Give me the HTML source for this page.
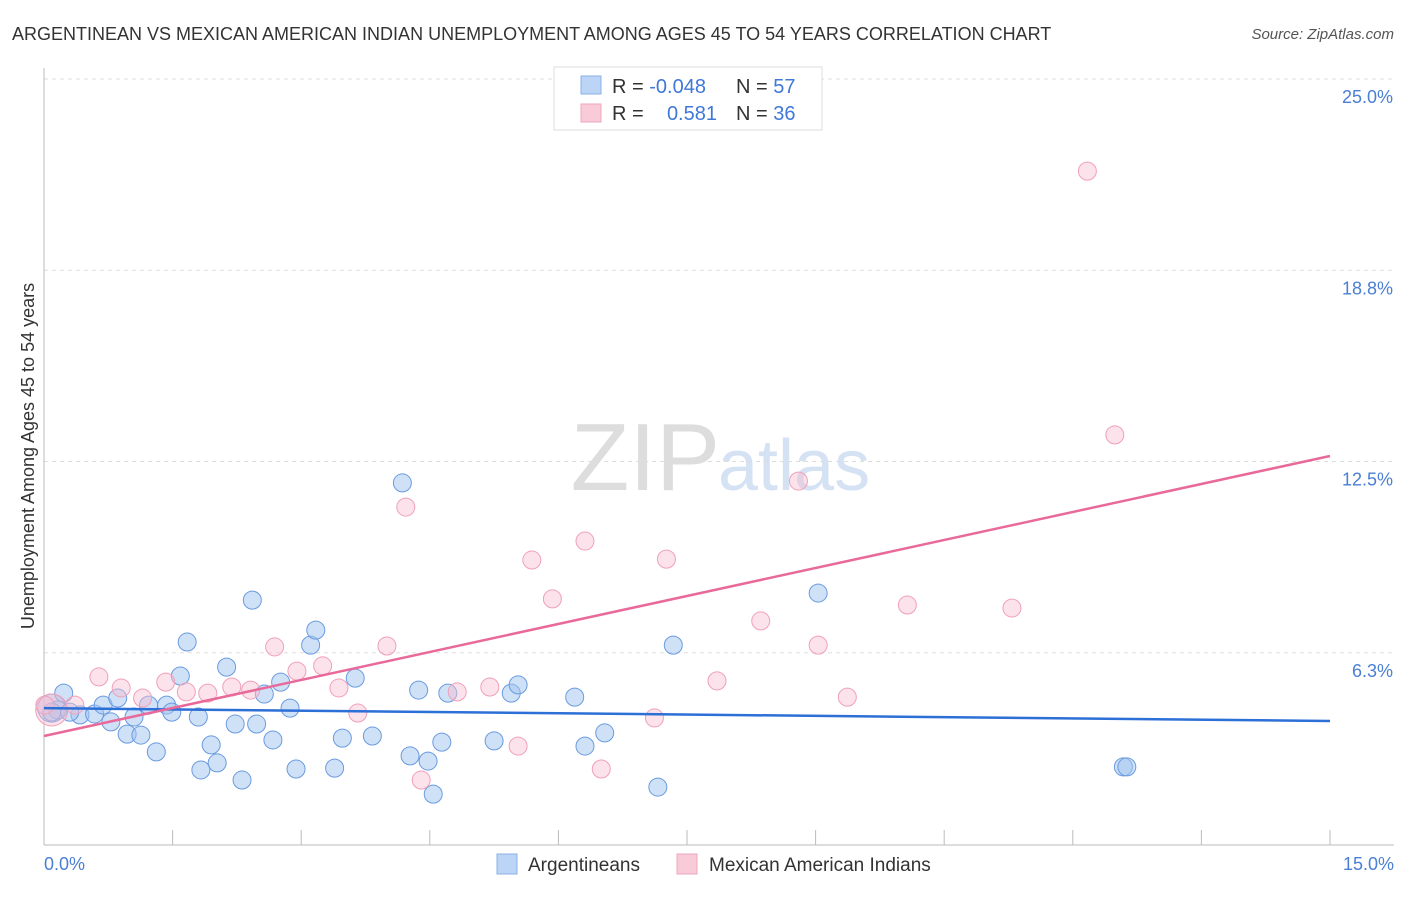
<!DOCTYPE html>
<html><head><meta charset="utf-8"><style>
body{margin:0;background:#fff;font-family:"Liberation Sans",sans-serif;}
svg text{font-family:"Liberation Sans",sans-serif;}
</style></head><body>
<svg id="chart" width="1406" height="892" xmlns="http://www.w3.org/2000/svg">
<text x="12" y="40" font-size="18" fill="#333">ARGENTINEAN VS MEXICAN AMERICAN INDIAN UNEMPLOYMENT AMONG AGES 45 TO 54 YEARS CORRELATION CHART</text>
<text x="1394" y="39" font-size="15" fill="#555" font-style="italic" text-anchor="end">Source: ZipAtlas.com</text>
<text x="720" y="490" font-size="96" fill="#ddd" text-anchor="end" font-family="Liberation Serif">ZIP</text>
<text x="718" y="490" font-size="72" fill="#d4e2f4">atlas</text>
<g id="grid"></g><g id="ticks"></g>
<line x1="44" y1="68" x2="44" y2="845" stroke="#bbb"/>
<line x1="44" y1="845" x2="1394" y2="845" stroke="#bbb"/>
<text transform="translate(34,456) rotate(-90)" font-size="18" fill="#333" text-anchor="middle">Unemployment Among Ages 45 to 54 years</text>
<text x="44" y="870" font-size="18" fill="#4a7fd4">0.0%</text>
<text x="1394" y="870" font-size="18" fill="#4a7fd4" text-anchor="end">15.0%</text>
<g id="points"></g><g id="lines"></g>
<g>
<rect x="554" y="67" width="268" height="63" fill="#fff" stroke="#ddd"/>
<rect x="581" y="76" width="20" height="18" fill="#bcd4f5" stroke="#8ab0e8"/>
<rect x="581" y="104" width="20" height="18" fill="#f9cbd9" stroke="#f0a5bd"/>
<text x="612" y="93" font-size="20" fill="#333">R = <tspan fill="#3f78d8">-0.048</tspan></text>
<text x="736" y="93" font-size="20" fill="#333">N = <tspan fill="#3f78d8">57</tspan></text>
<text x="612" y="120" font-size="20" fill="#333">R = </text><text x="717" y="120" font-size="20" fill="#3f78d8" text-anchor="end">0.581</text>
<text x="736" y="120" font-size="20" fill="#333">N = <tspan fill="#3f78d8">36</tspan></text>
</g>
<g><rect x="497" y="854" width="20" height="20" fill="#bcd4f5" stroke="#8ab0e8"/><text x="528" y="871" font-size="19" fill="#333">Argentineans</text></g>
<g><rect x="677" y="854" width="20" height="20" fill="#f9cbd9" stroke="#f0a5bd"/><text x="709" y="871" font-size="19" fill="#333">Mexican American Indians</text></g>
</svg>
<script>
const yTicks=[6.25,12.5,18.75,25];
const yTickLabels=["6.3%","12.5%","18.8%","25.0%"];
const blueX=[0.09,0.23,0.16,0.42,0.59,0.69,0.78,0.86,0.97,1.05,1.13,1.22,1.31,1.43,1.49,1.59,1.67,1.80,1.83,1.95,2.02,2.13,2.23,2.31,2.43,2.48,2.57,2.67,2.76,2.87,2.94,3.11,3.17,3.39,3.48,3.63,3.83,4.18,4.27,4.37,4.48,4.54,4.64,4.71,5.25,5.45,5.53,6.19,6.31,6.54,7.16,7.34,9.03,12.59,12.63,0.09,0.30];
const blueY=[4.44,4.93,4.38,4.22,4.25,4.54,3.99,4.77,3.59,4.15,3.56,4.54,3.01,4.54,4.31,5.49,6.60,4.15,2.42,3.24,2.65,5.78,3.92,2.09,7.97,3.92,4.90,3.40,5.29,4.44,2.45,6.50,6.99,2.48,3.46,5.42,3.53,11.80,2.88,5.03,2.71,1.63,3.33,4.93,3.37,4.93,5.20,4.80,3.20,3.63,1.86,6.50,8.20,2.52,2.52,4.31,4.31];
const pinkX=[0.09,0.01,0.36,0.64,0.90,1.15,1.42,1.66,1.91,2.19,2.41,2.69,2.95,3.25,3.44,3.66,4.00,4.22,4.40,4.82,5.20,5.53,5.69,5.93,6.31,6.50,7.12,7.26,7.85,8.36,8.80,9.03,9.37,10.07,11.29,12.17,12.49];
const pinkY=[4.38,4.54,4.54,5.46,5.10,4.77,5.29,4.97,4.93,5.13,5.03,6.44,5.65,5.82,5.10,4.28,6.47,11.01,2.09,4.97,5.13,3.20,9.28,8.01,9.90,2.45,4.12,9.31,5.33,7.29,11.86,6.50,4.80,7.81,7.71,21.99,13.37];
const blueLine=[4.44,4.02];
const pinkLine=[3.53,12.68];
const NS="http://www.w3.org/2000/svg";
const X=v=>44+v*(1286/15), Y=v=>844-v*30.6;
function mk(t,a,p){const e=document.createElementNS(NS,t);for(const k in a)e.setAttribute(k,a[k]);p.appendChild(e);return e;}
const grid=document.getElementById('grid'),ticks=document.getElementById('ticks');
yTicks.forEach((t,i)=>{
 const l=mk('line',{x1:44,x2:1394,y1:Y(t),y2:Y(t),stroke:'#ddd','stroke-dasharray':'4,4'},grid);
 
 
 const tx=mk('text',{x:1393,y:Y(t)+24,'font-size':18,fill:'#4a7fd4','text-anchor':'end'},grid);
 tx.textContent=yTickLabels[i];
 
 
});
for(let i=1;i<=10;i++){
 const l=mk('line',{x1:X(i*1.5),x2:X(i*1.5),y1:830,y2:845,stroke:'#bbb'},ticks);
 
 
}
const pts=document.getElementById('points');
blueX.forEach((x,i)=>{
 const c=mk('circle',{cx:X(x),cy:Y(blueY[i]),r:i===0?14:9,fill:'rgba(160,195,240,0.5)',stroke:'#6a9be0','stroke-width':1},pts);
 
 
});
pinkX.forEach((x,i)=>{
 const c=mk('circle',{cx:X(x),cy:Y(pinkY[i]),r:i===0?16:9,fill:'rgba(248,190,208,0.45)',stroke:'#f0a0ba','stroke-width':1},pts);
 
 
});
const ln=document.getElementById('lines');
const b=mk('line',{x1:X(0),x2:X(15),y1:Y(blueLine[0]),y2:Y(blueLine[1]),stroke:'#2c6fd6','stroke-width':2.5},ln);


const p=mk('line',{x1:X(0),x2:X(15),y1:Y(pinkLine[0]),y2:Y(pinkLine[1]),stroke:'#e8699a','stroke-width':2.5},ln);


</script>
</body></html>
